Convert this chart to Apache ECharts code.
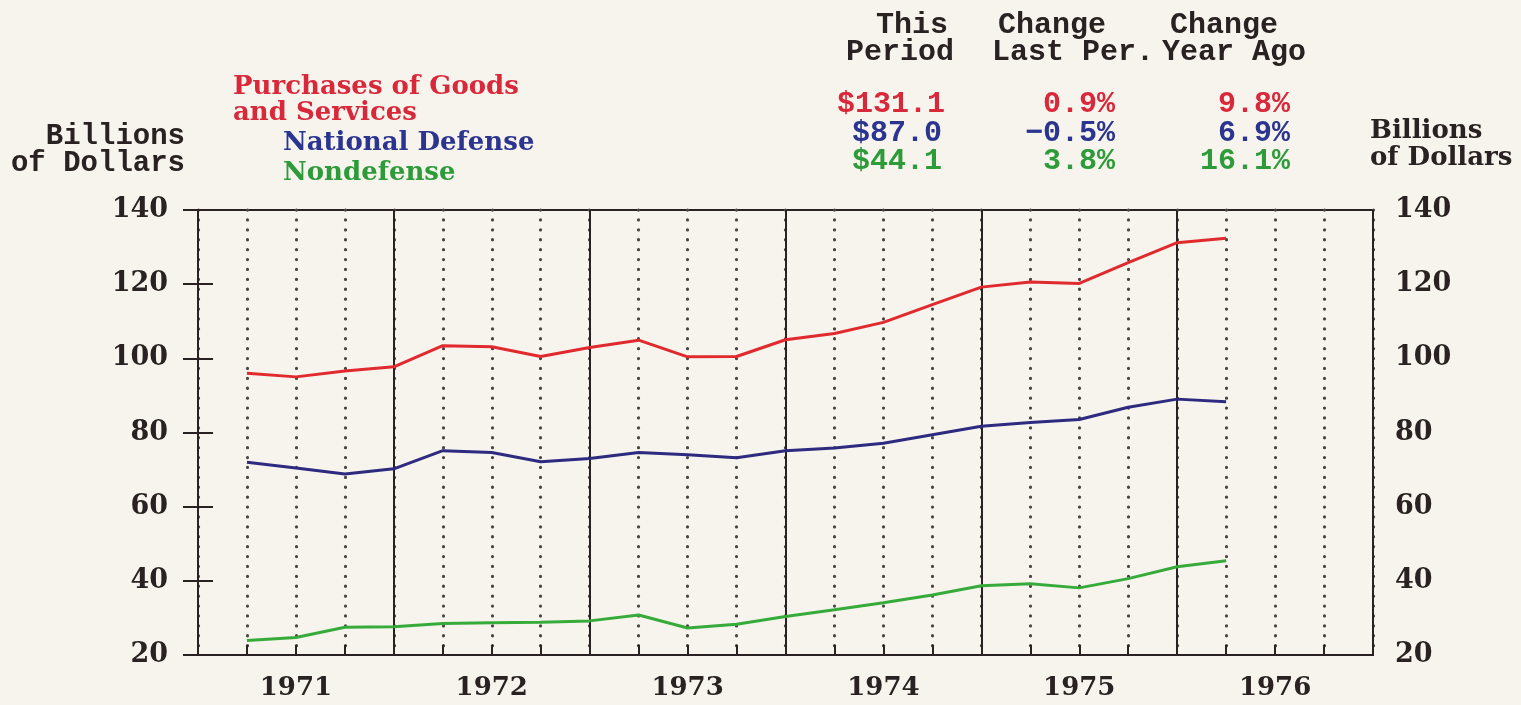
<!DOCTYPE html>
<html>
<head>
<meta charset="utf-8">
<title>Purchases of Goods and Services</title>
<script src="https://cdn.jsdelivr.net/npm/echarts@6/dist/echarts.min.js"></script>
<style>
  html, body { margin: 0; padding: 0; background: #f6f4ed; }
  #main { width: 1521px; height: 705px; }
</style>
</head>
<body>
<div id="main"></div>
<script>
// quarterly data, 1971 Q1 .. 1976 Q1 (billions of dollars)
var quarters = ['1971Q1','1971Q2','1971Q3','1971Q4','1972Q1','1972Q2','1972Q3','1972Q4',
                '1973Q1','1973Q2','1973Q3','1973Q4','1974Q1','1974Q2','1974Q3','1974Q4',
                '1975Q1','1975Q2','1975Q3','1975Q4','1976Q1'];
var purchases = [96.0, 95.0, 96.6, 97.7, 103.4, 103.1, 100.5, 102.9, 104.9, 100.4, 100.5,
                 105.0, 106.7, 109.7, 114.5, 119.2, 120.6, 120.2, 125.8, 131.2, 132.4];
var defense = [72.0, 70.4, 68.8, 70.2, 75.1, 74.6, 72.1, 73.0, 74.6, 74.0, 73.2,
               75.1, 75.8, 77.1, 79.4, 81.7, 82.7, 83.5, 86.8, 89.0, 88.3];
var nondefense = [23.9, 24.7, 27.5, 27.6, 28.5, 28.7, 28.8, 29.2, 30.8, 27.3, 28.3,
                  30.4, 32.2, 34.1, 36.2, 38.7, 39.2, 38.1, 40.6, 43.8, 45.4];
var years = ['1971', '1972', '1973', '1974', '1975', '1976'];
var yTicks = [20, 40, 60, 80, 100, 120, 140];

var RED = '#d8283a', BLUE = '#2b3590', GREEN = '#2e9b3a', INK = '#2a2222';
var mono = 'bold 29px "Liberation Mono", monospace';
var monoBig = 'bold 30px "Liberation Mono", monospace';
var serif = 'bold 26px "DejaVu Serif", serif';

// each point sits at the end of its quarter
function pts(arr) {
    return arr.map(function (v, i) { return [i + 1, v]; });
}

function txt(s, x, y, font, color, align) {
    return {
        type: 'text',
        style: { text: s, x: x, y: y, font: font, fill: color,
                 textAlign: align || 'left', textVerticalAlign: 'middle' }
    };
}

var myChart = echarts.init(document.getElementById('main'));

option = {
    backgroundColor: '#f6f4ed',
    animation: false,
    grid: { left: 198, right: 148, top: 210, bottom: 50,
            show: true, borderColor: INK, borderWidth: 2 },
    xAxis: [
        {
            type: 'value', min: 0, max: 24, interval: 1,
            axisLine: { lineStyle: { color: INK, width: 2 } },
            axisTick: { inside: true, length: 10, lineStyle: { color: INK, width: 2 } },
            axisLabel: {
                margin: 20,
                color: INK,
                fontFamily: 'DejaVu Serif', fontWeight: 'bold', fontSize: 26,
                formatter: function (v) {
                    return v % 4 === 2 ? years[(v - 2) / 4] : '';
                }
            },
            splitLine: { show: true, lineStyle: { color: '#4a4444', width: 3.2, type: [0.1, 9.8], cap: 'round' } }
        },
        {
            type: 'value', min: 0, max: 24, interval: 4, position: 'bottom',
            axisLine: { show: false }, axisTick: { show: false }, axisLabel: { show: false },
            splitLine: { show: true, lineStyle: { color: INK, width: 2 } }
        }
    ],
    yAxis: [
        {
            type: 'value', min: yTicks[0], max: yTicks[yTicks.length - 1], interval: 20,
            axisLine: { show: true, lineStyle: { color: INK, width: 2 } },
            axisTick: { show: true, length: 15, lineStyle: { color: INK, width: 2 } },
            axisLabel: { margin: 30, color: INK, fontFamily: 'DejaVu Serif',
                         fontWeight: 'bold', fontSize: 27 },
            splitLine: { show: false }
        },
        {
            type: 'value', min: yTicks[0], max: yTicks[yTicks.length - 1], interval: 20,
            position: 'right',
            axisLine: { show: true, lineStyle: { color: INK, width: 2 } },
            axisTick: { show: true, length: 15, lineStyle: { color: INK, width: 2 } },
            axisLabel: { margin: 22, color: INK, fontFamily: 'DejaVu Serif',
                         fontWeight: 'bold', fontSize: 27 },
            splitLine: { show: false }
        }
    ],
    series: [
        { name: 'Purchases of Goods and Services', type: 'line', data: pts(purchases),
          showSymbol: false, lineStyle: { color: '#e02a2e', width: 3 }, z: 5 },
        { name: 'National Defense', type: 'line', data: pts(defense),
          showSymbol: false, lineStyle: { color: '#2e2a80', width: 3 }, z: 5 },
        { name: 'Nondefense', type: 'line', data: pts(nondefense),
          showSymbol: false, lineStyle: { color: '#36ab3a', width: 3 }, z: 5 }
    ],
    graphic: [
        txt('Billions', 185, 137, mono, INK, 'right'),
        txt('of Dollars', 185, 164, mono, INK, 'right'),
        txt('Billions', 1370, 131, serif, INK),
        txt('of Dollars', 1370, 158, serif, INK),

        txt('Purchases of Goods', 233, 87, serif, RED),
        txt('and Services', 233, 113, serif, RED),
        txt('National Defense', 283, 143, serif, BLUE),
        txt('Nondefense', 283, 173, serif, GREEN),

        txt('This', 912, 25, monoBig, INK, 'center'),
        txt('Period', 900, 52, monoBig, INK, 'center'),
        txt('Change', 1052, 25, monoBig, INK, 'center'),
        txt('Last Per.', 1073, 52, monoBig, INK, 'center'),
        txt('Change', 1224, 25, monoBig, INK, 'center'),
        txt('Year Ago', 1234, 52, monoBig, INK, 'center'),

        txt('$131.1', 945, 104, monoBig, RED, 'right'),
        txt('$87.0', 942, 133, monoBig, BLUE, 'right'),
        txt('$44.1', 942, 161, monoBig, GREEN, 'right'),
        txt('0.9%', 1115, 104, monoBig, RED, 'right'),
        txt('\u22120.5%', 1115, 133, monoBig, BLUE, 'right'),
        txt('3.8%', 1115, 161, monoBig, GREEN, 'right'),
        txt('9.8%', 1290, 104, monoBig, RED, 'right'),
        txt('6.9%', 1290, 133, monoBig, BLUE, 'right'),
        txt('16.1%', 1290, 161, monoBig, GREEN, 'right')
    ]
};
myChart.setOption(option);
</script>
</body>
</html>
